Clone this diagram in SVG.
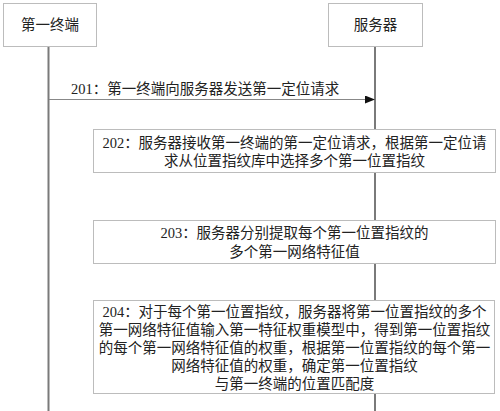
<svg xmlns="http://www.w3.org/2000/svg" width="500" height="411" viewBox="0 0 500 411">
<defs>
<marker id="ah" markerWidth="10" markerHeight="8" refX="9" refY="4" orient="auto" markerUnits="userSpaceOnUse">
<path d="M0,0 L10,4 L0,8 Z" fill="#111"/>
</marker>
<style>
.box{fill:#fff;stroke:#bcbcbc;stroke-width:1}
.life{stroke:#7a7a7a;stroke-width:2;fill:none}
.msg{stroke:#888;stroke-width:1;fill:none}
text{font-family:"Liberation Serif","Noto Sans CJK SC",serif;font-size:14.5px;fill:#222}
.c{text-anchor:middle}
</style>
</defs>
<g id="connectors">
<line class="life" x1="48.5" y1="47" x2="48.5" y2="411"/>
<line class="life" x1="375" y1="47" x2="375" y2="411"/>
<line class="msg" x1="49" y1="99.5" x2="374" y2="99.5" marker-end="url(#ah)"/>
<text x="71" y="94">201：第一终端向服务器发送第一定位请求</text>
</g>
<g id="terminal">
<rect class="box" x="3.5" y="3.5" width="93" height="43"/>
<text class="c" x="50" y="30">第一终端</text>
</g>
<g id="server">
<rect class="box" x="328.5" y="3.5" width="94" height="43"/>
<text class="c" x="375.5" y="30">服务器</text>
</g>
<g id="step202">
<rect class="box" x="93.5" y="129.5" width="402" height="43"/>
<text class="c" x="294.5" y="148">202：服务器接收第一终端的第一定位请求，根据第一定位请</text>
<text class="c" x="294.5" y="166">求从位置指纹库中选择多个第一位置指纹</text>
</g>
<g id="step203">
<rect class="box" x="93.5" y="220.5" width="402" height="43"/>
<text class="c" x="294.5" y="238">203：服务器分别提取每个第一位置指纹的</text>
<text class="c" x="294.5" y="257">多个第一网络特征值</text>
</g>
<g id="step204">
<rect class="box" x="93.5" y="300.5" width="401" height="93"/>
<text class="c" x="294.5" y="317">204：对于每个第一位置指纹，服务器将第一位置指纹的多个</text>
<text class="c" x="294.5" y="335">第一网络特征值输入第一特征权重模型中，得到第一位置指纹</text>
<text class="c" x="294.5" y="353">的每个第一网络特征值的权重，根据第一位置指纹的每个第一</text>
<text class="c" x="294.5" y="371">网络特征值的权重，确定第一位置指纹</text>
<text class="c" x="294.5" y="389">与第一终端的位置匹配度</text>
</g>
</svg>
